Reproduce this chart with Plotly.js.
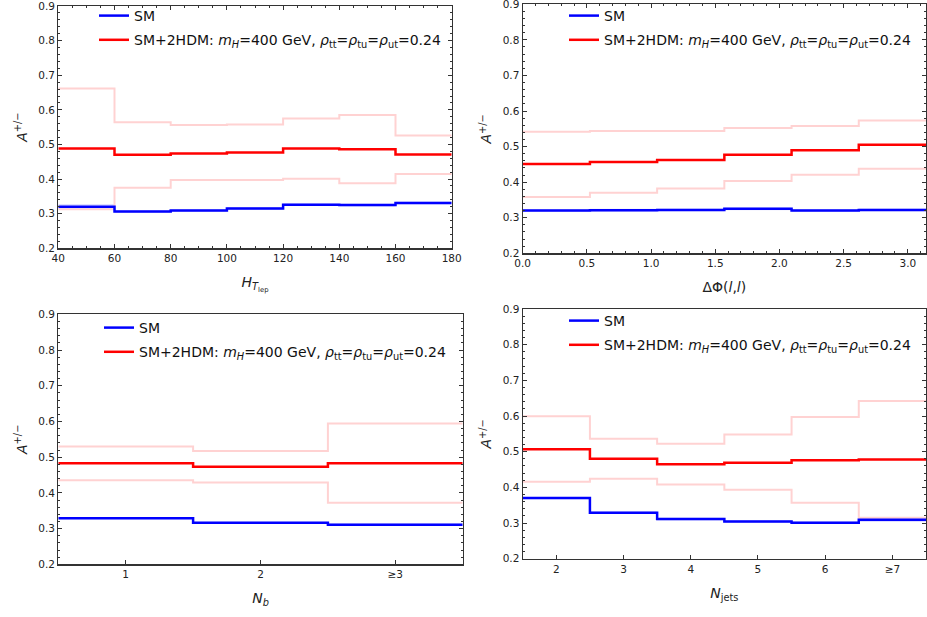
<!DOCTYPE html>
<html>
<head>
<meta charset="utf-8">
<script src="https://cdn.plot.ly/plotly-3.0.1.min.js"></script>
<style>html,body{margin:0;padding:0;background:#fff;}#chart{width:927px;height:617px;}</style>
</head>
<body>
<div id="chart"></div>
<script>
// ---------- data ----------
// Panel 1: H_T_lep bins
const htEdges = [40, 60, 80, 100, 120, 140, 160, 180];
const htSM    = [0.320, 0.306, 0.309, 0.315, 0.326, 0.325, 0.331];
const htSMerr = [0.008, 0.004, 0.004, 0.004, 0.004, 0.004, 0.004];
const htBSM   = [0.488, 0.470, 0.474, 0.477, 0.488, 0.486, 0.471];
const htUp    = [0.662, 0.564, 0.556, 0.558, 0.575, 0.585, 0.526];
const htDn    = [0.313, 0.375, 0.397, 0.397, 0.401, 0.388, 0.415];

// Panel 2: delta phi(l,l) bins (0..pi in 6 bins)
const dpEdges = [0, 0.5236, 1.0472, 1.5708, 2.0944, 2.6180, 3.1416];
const dpSM    = [0.320, 0.321, 0.322, 0.325, 0.320, 0.322];
const dpSMerr = [0.004, 0.004, 0.004, 0.004, 0.004, 0.004];
const dpBSM   = [0.451, 0.457, 0.462, 0.477, 0.490, 0.505];
const dpUp    = [0.542, 0.544, 0.544, 0.552, 0.558, 0.573];
const dpDn    = [0.358, 0.370, 0.382, 0.403, 0.421, 0.438];

// Panel 3: N_b
const nbEdges  = [0.5, 1.5, 2.5, 3.5];
const nbTicks  = [1, 2, 3];
const nbLabels = ['1', '2', '≥3'];
const nbSM     = [0.329, 0.316, 0.311];
const nbSMerr  = [0.003, 0.003, 0.004];
const nbBSM    = [0.483, 0.473, 0.483];
const nbUp     = [0.530, 0.517, 0.594];
const nbDn     = [0.435, 0.429, 0.372];

// Panel 4: N_jets
const njEdges  = [1.5, 2.5, 3.5, 4.5, 5.5, 6.5, 7.5];
const njTicks  = [2, 3, 4, 5, 6, 7];
const njLabels = ['2', '3', '4', '5', '6', '≥7'];
const njSM     = [0.370, 0.329, 0.311, 0.304, 0.301, 0.309];
const njSMerr  = [0.003, 0.004, 0.004, 0.004, 0.004, 0.006];
const njBSM    = [0.507, 0.480, 0.465, 0.469, 0.476, 0.478];
const njUp     = [0.599, 0.536, 0.522, 0.548, 0.597, 0.642];
const njDn     = [0.416, 0.424, 0.408, 0.393, 0.357, 0.315];

const smName  = 'SM';
const bsmName = 'SM+2HDM: <i>m</i><sub><i>H</i></sub>=400 GeV, <i>ρ</i><sub>tt</sub>=<i>ρ</i><sub>tu</sub>=<i>ρ</i><sub>ut</sub>=0.24';

// ---------- helpers ----------
const FONT = 'DejaVu Sans, sans-serif';
const BLUE = '#0000ff', RED = '#ff0000', PINK = '#ffd2d2', BAND = 'rgba(0,0,255,0.13)';
function stepY(v) { return v.concat([v[v.length - 1]]); }

function panelTraces(edges, sm, smErr, bsm, up, dn, ax, lg) {
  const xa = ax === 1 ? 'x' : 'x' + ax, ya = ax === 1 ? 'y' : 'y' + ax;
  const lo = sm.map((v, i) => v - smErr[i]);
  const hi = sm.map((v, i) => v + smErr[i]);
  const base = {type: 'scatter', mode: 'lines', x: edges, xaxis: xa, yaxis: ya, legend: lg, hoverinfo: 'skip'};
  return [
    Object.assign({}, base, {y: stepY(lo), line: {width: 0, shape: 'hv'}, showlegend: false}),
    Object.assign({}, base, {y: stepY(hi), line: {width: 0, shape: 'hv'}, fill: 'tonexty', fillcolor: BAND, showlegend: false}),
    Object.assign({}, base, {y: stepY(up), line: {color: PINK, width: 2, shape: 'hv'}, showlegend: false}),
    Object.assign({}, base, {y: stepY(dn), line: {color: PINK, width: 2, shape: 'hv'}, showlegend: false}),
    Object.assign({}, base, {y: stepY(sm), name: smName, legendgroup: 'sm' + ax, line: {color: BLUE, width: 2.5, shape: 'hv'}, showlegend: true}),
    Object.assign({}, base, {y: stepY(bsm), name: bsmName, legendgroup: 'bsm' + ax, line: {color: RED, width: 2.5, shape: 'hv'}, showlegend: true})
  ];
}

const data = [].concat(
  panelTraces(htEdges, htSM, htSMerr, htBSM, htUp, htDn, 1, 'legend'),
  panelTraces(dpEdges, dpSM, dpSMerr, dpBSM, dpUp, dpDn, 2, 'legend2'),
  panelTraces(nbEdges, nbSM, nbSMerr, nbBSM, nbUp, nbDn, 3, 'legend3'),
  panelTraces(njEdges, njSM, njSMerr, njBSM, njUp, njDn, 4, 'legend4')
);

const W = 927, H = 617;
function dx(a, b) { return [a / W, b / W]; }
function dy(top, bottom) { return [1 - bottom / H, 1 - top / H]; }

const LINE = '#333';
const tickFont = {family: FONT, size: 10.5, color: '#222'};
const titleFont = {family: FONT, size: 14, color: '#222'};

function yAxis(domain, anchor) {
  return {
    domain: domain, anchor: anchor, range: [0.2, 0.9], dtick: 0.1, tick0: 0.2, tickformat: '.1f',
    ticks: 'inside', ticklen: 4, tickwidth: 1, tickcolor: LINE,
    minor: {dtick: 0.02, ticks: 'inside', ticklen: 2, tickwidth: 1, tickcolor: LINE},
    showline: true, linecolor: LINE, linewidth: 1.2, mirror: 'allticks',
    showgrid: false, zeroline: false, tickfont: tickFont, ticklabeloverflow: 'allow',
    title: {text: '<i>A</i><sup>+/−</sup>', font: titleFont, standoff: 7}
  };
}

function xAxisCont(domain, anchor, range, dt, minorDt, fmt, title) {
  return {
    domain: domain, anchor: anchor, range: range, dtick: dt, tick0: 0, tickformat: fmt,
    ticks: 'inside', ticklen: 4, tickwidth: 1, tickcolor: LINE,
    minor: {dtick: minorDt, ticks: 'inside', ticklen: 2, tickwidth: 1, tickcolor: LINE},
    showline: true, linecolor: LINE, linewidth: 1.2, mirror: 'allticks',
    showgrid: false, zeroline: false, tickfont: tickFont, ticklabeloverflow: 'allow',
    title: {text: title, font: titleFont, standoff: 14}
  };
}

function xAxisCat(domain, anchor, range, vals, labels, title) {
  return {
    domain: domain, anchor: anchor, range: range, tickmode: 'array', tickvals: vals, ticktext: labels,
    ticks: 'inside', ticklen: 4, tickwidth: 1, tickcolor: LINE,
    showline: true, linecolor: LINE, linewidth: 1.2, mirror: true,
    showgrid: false, zeroline: false, tickfont: tickFont, ticklabeloverflow: 'allow',
    title: {text: title, font: titleFont, standoff: 14}
  };
}

function legendAt(xpx, ypx) {
  return {x: xpx / W, y: 1 - ypx / H, xanchor: 'left', yanchor: 'top', xref: 'paper', yref: 'paper',
          bgcolor: 'rgba(0,0,0,0)', borderwidth: 0, font: {family: FONT, size: 14, color: '#111'},
          itemwidth: 30, tracegroupgap: 3, traceorder: 'grouped'};
}

const layout = {
  width: W, height: H, margin: {l: 0, r: 0, t: 0, b: 0},
  paper_bgcolor: '#fff', plot_bgcolor: '#fff', font: {family: FONT},
  xaxis:  xAxisCont(dx(58.3, 451.7), 'y',  [40, 180], 20, 5, 'd', '<i>H</i><sub><i>T</i><sub>lep</sub></sub>'),
  yaxis:  yAxis(dy(6, 248.3), 'x'),
  xaxis2: xAxisCont(dx(522.7, 926), 'y2', [0, 3.1416], 0.5, 0.1, '.1f', 'ΔΦ(<i>l</i>,<i>l</i>)'),
  yaxis2: yAxis(dy(4.3, 253.3), 'x2'),
  xaxis3: xAxisCat(dx(58.3, 462.7), 'y3', [0.5, 3.5], nbTicks, nbLabels, '<i>N</i><sub><i>b</i></sub>'),
  yaxis3: yAxis(dy(314.3, 564.3), 'x3'),
  xaxis4: xAxisCat(dx(522.7, 926), 'y4', [1.5, 7.5], njTicks, njLabels, '<i>N</i><sub>jets</sub>'),
  yaxis4: yAxis(dy(309, 558.7), 'x4'),
  legend:  legendAt(94, 0),
  legend2: legendAt(564, 0),
  legend3: legendAt(99, 312),
  legend4: legendAt(564, 305),
  showlegend: true
};

Plotly.newPlot('chart', data, layout, {displayModeBar: false, staticPlot: true});
</script>
</body>
</html>
